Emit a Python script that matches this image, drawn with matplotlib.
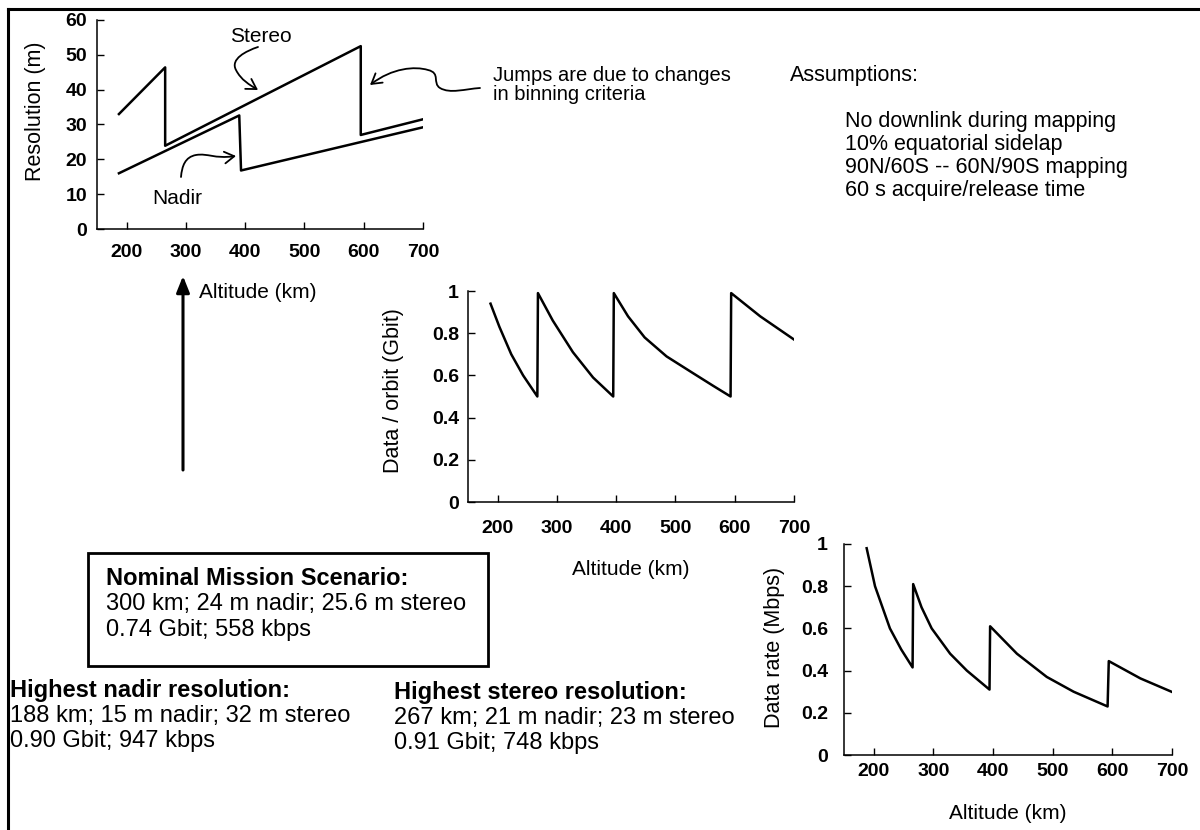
'''
Mapping scenario summary: resolution, data volume per orbit and data rate
against orbit altitude, with the notes that go round the three plots.
'''

import matplotlib
matplotlib.use('Agg')
import matplotlib.pyplot as plt
from matplotlib.path import Path
from matplotlib.patches import FancyArrowPatch, Rectangle

plt.rcParams['font.family'] = ['Liberation Sans', 'DejaVu Sans']

# resolution (m) vs altitude (km), jumps drawn as repeated altitudes
stereo_alt = [187, 265, 265, 595, 595, 700]
stereo_res = [33.0, 46.4, 23.9, 52.5, 27.0, 31.5]
nadir_alt = [187, 390, 393, 700]
nadir_res = [16.0, 32.6, 16.8, 29.2]

# data per orbit (Gbit)
orbit_alt = [188, 203, 223, 243, 267, 268, 293, 327, 361, 395,
             396, 420, 448, 485, 530, 564, 593, 594, 643, 700]
orbit_gbit = [0.94, 0.83, 0.70, 0.60, 0.50, 0.99, 0.86, 0.71, 0.59, 0.50,
              0.99, 0.88, 0.78, 0.69, 0.61, 0.55, 0.50, 0.99, 0.88, 0.77]

# data rate (Mbps)
rate_alt = [188, 202, 227, 246, 265, 266, 280, 297, 328, 356, 394,
            395, 440, 490, 535, 592, 594, 647, 699]
rate_mbps = [0.98, 0.80, 0.60, 0.50, 0.415, 0.81, 0.70, 0.60, 0.48, 0.40, 0.31,
             0.61, 0.48, 0.37, 0.30, 0.23, 0.445, 0.363, 0.30]

alt_ticks = [200, 300, 400, 500, 600, 700]
frac_ticks = [0, 0.2, 0.4, 0.6, 0.8, 1]
frac_labels = ['0', '0.2', '0.4', '0.6', '0.8', '1']

W, H = 1200, 830
fig = plt.figure(figsize=(12, 8.3), dpi=100)

# overlay in pixel coordinates for the notes
ov = fig.add_axes([0, 0, 1, 1])
ov.set_xlim(0, W)
ov.set_ylim(H, 0)
ov.axis('off')


def px_axes(x0, y0, x1, y1):
	return fig.add_axes([x0/W, 1 - y1/H, (x1 - x0)/W, (y1 - y0)/H])


def style(ax, xpad, ypad):
	for s in ['top', 'right']:
		ax.spines[s].set_visible(False)
	for s in ['left', 'bottom']:
		ax.spines[s].set_linewidth(1.1)
	ax.set_xlim(150, 700)
	ax.set_xticks(alt_ticks)
	ax.tick_params(direction='in', length=5, width=1, labelsize=14)
	ax.tick_params(axis='x', pad=xpad)
	ax.tick_params(axis='y', pad=ypad)
	for t in ax.get_xticklabels() + ax.get_yticklabels():
		t.set_fontweight('bold')
	ax.patch.set_alpha(0)


# top left: resolution
ax1 = px_axes(97, 20, 423, 229)
ax1.plot(stereo_alt, stereo_res, '-k', lw=1.8)
ax1.plot(nadir_alt, nadir_res, '-k', lw=1.8)
ax1.set_ylim(0, 60)
ax1.set_yticks([0, 10, 20, 30, 40, 50, 60])
style(ax1, 11, 7)
ax1.set_ylabel('Resolution (m)', fontsize=15.5, va='center')
ax1.yaxis.set_label_coords(-0.19, 0.565)
ax1.set_xlabel('Altitude (km)', fontsize=15, va='center')
ax1.xaxis.set_label_coords(0.494, -0.304)

# middle: data per orbit
ax2 = px_axes(468, 291, 794, 502)
ax2.plot(orbit_alt, orbit_gbit, '-k', lw=1.8)
ax2.set_ylim(0, 1)
ax2.set_yticks(frac_ticks)
ax2.set_yticklabels(frac_labels)
style(ax2, 13, 6.5)
ax2.set_ylabel('Data / orbit (Gbit)', fontsize=15.5, va='center')
ax2.yaxis.set_label_coords(-0.23, 0.526)
ax2.set_xlabel('Altitude (km)', fontsize=15, va='center')
ax2.xaxis.set_label_coords(0.5, -0.322)

# bottom right: data rate
ax3 = px_axes(844, 544, 1172, 755)
ax3.plot(rate_alt, rate_mbps, '-k', lw=1.8)
ax3.set_ylim(0, 1)
ax3.set_yticks(frac_ticks)
ax3.set_yticklabels(frac_labels)
style(ax3, 6, 11.5)
ax3.set_ylabel('Data rate (Mbps)', fontsize=15.5, va='center')
ax3.yaxis.set_label_coords(-0.211, 0.509)
ax3.set_xlabel('Altitude (km)', fontsize=15, va='center')
ax3.xaxis.set_label_coords(0.5, -0.275)

# page frame (top and left edges only)
ov.plot([8, W], [9, 9], '-k', lw=2.2)
ov.plot([8, 8], [9, H], '-k', lw=2.2)


def squiggle(pts):
	codes = [Path.MOVETO] + [Path.CURVE4] * (len(pts) - 1)
	p = FancyArrowPatch(path=Path(pts, codes), arrowstyle='->,head_length=0.5,head_width=0.3',
	                    mutation_scale=14, lw=1.3, color='k')
	ov.add_patch(p)


squiggle([(258, 47), (246, 51), (230, 59), (236, 70), (241, 80), (250, 85), (258, 90)])
squiggle([(181, 177), (182, 166), (185, 157), (196, 155), (208, 153), (214, 159), (236, 156)])
squiggle([(480, 88), (465, 89), (450, 94), (440, 88), (432, 83), (441, 73), (428, 70),
          (415, 66), (392, 68), (370, 85)])

ov.text(261, 36, 'Stereo', fontsize=15, ha='center', va='center')
ov.text(177, 198, 'Nadir', fontsize=15, ha='center', va='center')
ov.text(493, 85, 'Jumps are due to changes\nin binning criteria', fontsize=14.5,
        ha='left', va='center', linespacing=1.0)

# nominal scenario arrow at 300 km
ov.annotate('', xy=(183, 276), xytext=(183, 470),
            arrowprops=dict(arrowstyle='-|>,head_length=0.7,head_width=0.28', lw=2.2,
                            color='k', mutation_scale=14, shrinkA=0, shrinkB=0))

ov.text(790, 75, 'Assumptions:', fontsize=15.5, va='center')
assume = ['No downlink during mapping', '10% equatorial sidelap',
          '90N/60S -- 60N/90S mapping', '60 s acquire/release time']
for i, line in enumerate(assume):
	ov.text(845, 121 + 23.3*i, line, fontsize=15.5, va='center')

ov.add_patch(Rectangle((88, 553), 400, 113, fill=False, lw=2, ec='k'))
ov.text(106, 578, 'Nominal Mission Scenario:', fontsize=17, fontweight='bold', va='center')
ov.text(106, 604, '300 km; 24 m nadir; 25.6 m stereo', fontsize=17, va='center')
ov.text(106, 630, '0.74 Gbit; 558 kbps', fontsize=17, va='center')

ov.text(10, 690, 'Highest nadir resolution:', fontsize=17, fontweight='bold', va='center')
ov.text(10, 716, '188 km; 15 m nadir; 32 m stereo', fontsize=17, va='center')
ov.text(10, 741, '0.90 Gbit; 947 kbps', fontsize=17, va='center')

ov.text(394, 692, 'Highest stereo resolution:', fontsize=17, fontweight='bold', va='center')
ov.text(394, 718, '267 km; 21 m nadir; 23 m stereo', fontsize=17, va='center')
ov.text(394, 743, '0.91 Gbit; 748 kbps', fontsize=17, va='center')

fig.savefig('out.png', dpi=100)
